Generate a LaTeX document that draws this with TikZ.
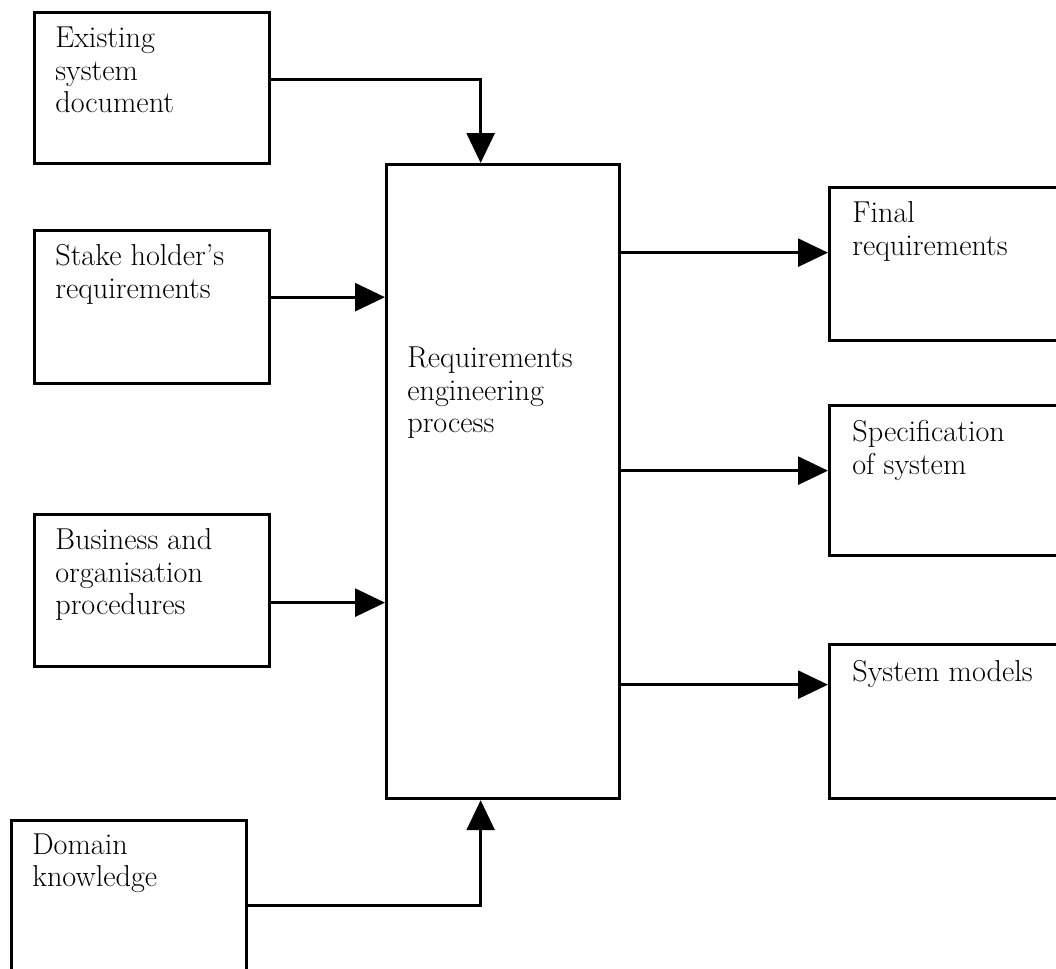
\documentclass[tikz,border=0pt]{standalone}
\usepackage{tikz}
\usetikzlibrary{arrows.meta,calc}

\begin{document}
\begin{tikzpicture}[x=0.02cm, y=-0.02cm, >={Triangle[length=6mm,width=5.6mm]},
  box/.style={draw, line width=1.9pt, anchor=north west, minimum width=4.7cm, inner sep=0pt},
  lbl/.style={anchor=base west, inner sep=0pt, font=\fontsize{17.2}{18.4}\selectfont},
  arr/.style={->, line width=1.6pt}]
  \clip (0,0) rectangle (1056,969);
  % inputs
  \node[box, minimum height=3.02cm] (exist) at (33,11) {};
  \node[box, minimum height=3.06cm] (stake) at (33,229) {};
  \node[box, minimum height=3.04cm] (busi) at (33,513) {};
  \node[box, minimum height=3.4cm] (domain) at (10,819) {};
  % process
  \node[box, minimum width=4.66cm, minimum height=12.68cm] (proc) at (385,163) {};
  % outputs
  \node[box, minimum width=5.2cm, minimum height=3.06cm] (final) at (828,186) {};
  \node[box, minimum width=5.2cm, minimum height=3.0cm] (spec) at (828,404) {};
  \node[box, minimum width=5.2cm, minimum height=3.08cm] (models) at (828,643) {};
  % texts
  \node[lbl] (exist-t) at ($(exist.north west)+(22,37)$) {\parbox[t]{4.4cm}{Existing\\system\\document}};
  \node[lbl] (stake-t) at ($(stake.north west)+(22,37)$) {\parbox[t]{4.4cm}{Stake holder's\\requirements}};
  \node[lbl] (busi-t) at ($(busi.north west)+(22,37)$) {\parbox[t]{4.4cm}{Business and\\organisation\\procedures}};
  \node[lbl] (domain-t) at ($(domain.north west)+(22,35)$) {\parbox[t]{4.4cm}{Domain\\knowledge}};
  \node[lbl] (proc-t) at ($(proc.north west)+(22,205)$) {\parbox[t]{4.4cm}{Requirements\\engineering\\process}};
  \node[lbl] (final-t) at ($(final.north west)+(24,37)$) {\parbox[t]{4.4cm}{Final\\requirements}};
  \node[lbl] (spec-t) at ($(spec.north west)+(24,38)$) {\parbox[t]{4.4cm}{Specification\\of system}};
  \node[lbl] (models-t) at ($(models.north west)+(24,39)$) {\parbox[t]{4.4cm}{System models}};
  % connectors in
  \draw[arr] ([yshift=1.7mm]exist.east) -| ([xshift=-4.5mm]proc.north);
  \draw[arr] ([yshift=2mm]stake.east) -- ([yshift=2mm]stake.east -| proc.west);
  \draw[arr] ([yshift=-2.4mm]busi.east) -- ([yshift=-2.4mm]busi.east -| proc.west);
  \draw[arr] (domain.east) -| ([xshift=-4.5mm]proc.south);
  % connectors out
  \draw[arr] ([yshift=2.3mm]final.west -| proc.east) -- ([yshift=2.3mm]final.west);
  \draw[arr] ([yshift=2mm]spec.west -| proc.east) -- ([yshift=2mm]spec.west);
  \draw[arr] ([yshift=7.4mm]models.west -| proc.east) -- ([yshift=7.4mm]models.west);
\end{tikzpicture}
\end{document}
